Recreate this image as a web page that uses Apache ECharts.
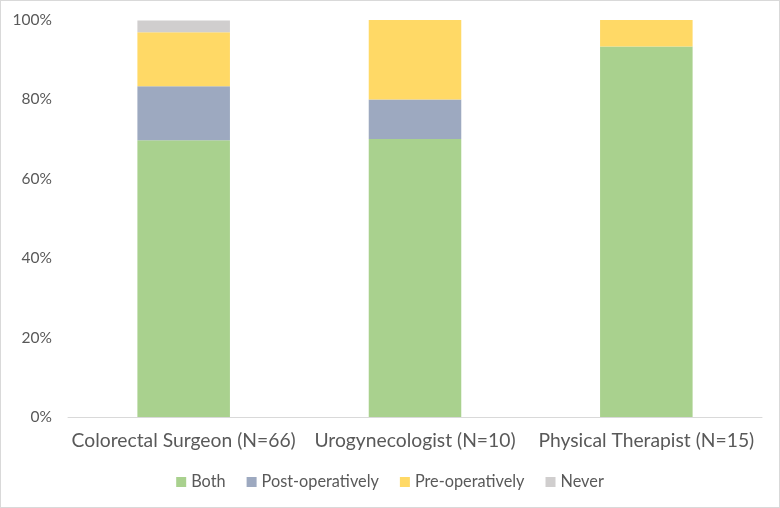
<!DOCTYPE html>
<html><head><meta charset="utf-8">
<script src="https://cdn.jsdelivr.net/npm/echarts@6/dist/echarts.min.js"></script>
<style>html,body{margin:0;padding:0;background:#fff}#c{width:778px;height:506px;border:1px solid #d9d9d9}</style>
</head><body><div id="c"></div>
<script>
const categories = ['Colorectal Surgeon (N=66)', 'Urogynecologist (N=10)', 'Physical Therapist (N=15)'];
const both = [69.7, 70, 93.3];
const postOp = [13.6, 10, 0];
const preOp = [13.6, 20, 6.7];
const never = [3.0, 0, 0];
const yTicks = [0, 20, 40, 60, 80, 100];
const chart = echarts.init(document.getElementById('c'));
const font = 'Lato, Calibri, "Open Sans", sans-serif';
function s(name, data, color) {
  return { name, type: 'bar', stack: 'a', data, barWidth: '40%', itemStyle: { color }, emphasis: { disabled: true } };
}
chart.setOption({
  animation: false,
  textStyle: { fontFamily: font },
  grid: { left: 67, right: 17, top: 19, bottom: 90 },
  legend: {
    bottom: 12, left: 'center', itemWidth: 10, itemHeight: 10, itemGap: 21,
    icon: 'rect',
    textStyle: { color: '#595959', fontSize: 16.3, fontFamily: font },
    data: ['Both', 'Post-operatively', 'Pre-operatively', 'Never']
  },
  xAxis: {
    type: 'category', data: categories,
    axisLine: { lineStyle: { color: '#d9d9d9' } },
    axisTick: { show: false },
    axisLabel: { color: '#595959', fontSize: 19.3, margin: 14, interval: 0, fontFamily: font }
  },
  yAxis: {
    type: 'value', min: 0, max: 100, interval: 20,
    splitLine: { show: false },
    axisLine: { show: false }, axisTick: { show: false },
    axisLabel: { color: '#595959', fontSize: 15.5, margin: 16, fontFamily: font,
      formatter: v => yTicks.includes(v) ? v + '%' : '' }
  },
  series: [
    s('Both', both, '#A9D18E'),
    s('Post-operatively', postOp, '#9DA9C0'),
    s('Pre-operatively', preOp, '#FFD966'),
    s('Never', never, '#D0CECE')
  ]
});
</script></body></html>
